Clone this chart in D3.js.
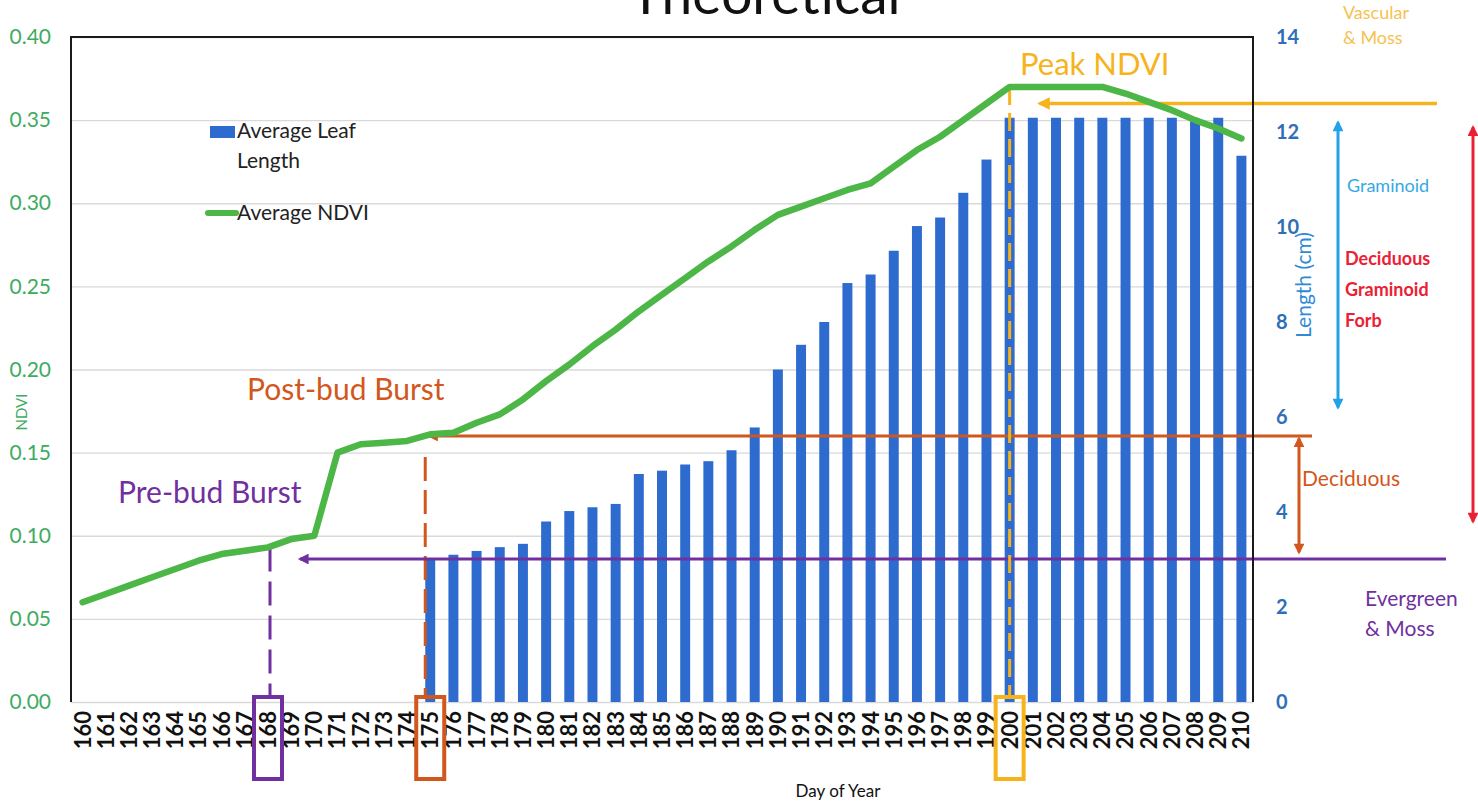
<!DOCTYPE html>
<html><head><meta charset="utf-8">
<script src="https://cdn.jsdelivr.net/npm/d3@7"></script>
<style>
body{margin:0;background:#fff;}
svg{display:block;font-family:Lato,"Open Sans",sans-serif;}
</style>
</head><body><svg id="c" width="1478" height="802"></svg>
<script>
// ---------------- data ----------------
const days = ["160","161","162","163","164","165","166","167","168","169","170",
  "171","172","173","174","175","176","177","178","179","180","181","182","183","184",
  "185","186","187","188","189","190","191","192","193","194","195","196","197","198",
  "199","200","201","202","203","204","205","206","207","208","209","210"];
const leafLength = [null,null,null,null,null,null,null,null,null,null,null,
  null,null,null,null,3.0,3.1,3.18,3.26,3.33,3.8,4.02,4.1,4.17,4.8,
  4.87,5.0,5.07,5.3,5.78,7.0,7.52,8.0,8.82,9.0,9.5,10.02,10.2,10.72,
  11.42,12.3,12.3,12.3,12.3,12.3,12.3,12.3,12.3,12.25,12.3,11.5];
const ndvi = [0.060,0.065,0.070,0.075,0.080,0.085,0.089,0.091,0.093,0.098,0.100,
  0.150,0.155,0.156,0.157,0.161,0.162,0.168,0.173,0.182,0.193,0.203,0.214,0.224,0.235,
  0.245,0.255,0.265,0.274,0.284,0.293,0.298,0.303,0.308,0.312,0.322,0.332,0.340,0.350,
  0.360,0.370,0.370,0.370,0.370,0.370,0.366,0.361,0.356,0.350,0.345,0.339];
const ndviTicks = [0,0.05,0.10,0.15,0.20,0.25,0.30,0.35,0.40];
const lengthTicks = [0,2,4,6,8,10,12,14];
const legendItems = ["Average Leaf Length","Average NDVI"];
// annotation anchors (data space)
const peakDay = "200", postDay = "175", preDay = "168";
const peakLevel = 0.360, postLevel = 0.160, preLevel = 0.086;

// ---------------- colours ----------------
const C = {
  bar:"#2e6bcf", line:"#4cb647", leftAx:"#3eab62", rightAx:"#2e6fb8",
  gold:"#f7b31b", brown:"#d2571d", purple:"#7030a0", sky:"#22a2e8", red:"#ec2034",
  grid:"#d9d9d9"
};

const svg = d3.select("#c");
const P = {left:71, right:1253, top:37, bottom:702};

const x = d3.scaleBand().domain(days).range([P.left,P.right]).paddingInner(0.57).paddingOuter(0.285);
const bw = x.bandwidth();
const cx = d => x(d) + bw/2;
const yL = d3.scaleLinear().domain([0,0.40]).range([P.bottom,P.top]);
const yR = d3.scaleLinear().domain([0,14]).range([P.bottom,P.top]);

// markers
const defs = svg.append("defs");
function marker(id,color){
  defs.append("marker").attr("id",id).attr("viewBox","0 0 10 10")
    .attr("refX",8).attr("refY",5).attr("markerWidth",4).attr("markerHeight",3.6)
    .attr("orient","auto-start-reverse")
    .append("path").attr("d","M0,0 L10,5 L0,10 z").attr("fill",color);
}
marker("mGold",C.gold); marker("mBrown",C.brown); marker("mPurple",C.purple);
marker("mSky",C.sky); marker("mRed",C.red);

// title (cut by the top edge, as in the reference)
svg.append("text").attr("x",765).attr("y",14).attr("text-anchor","middle")
  .attr("font-size",55).attr("fill","#111").text("Theoretical");

// gridlines
svg.append("g").attr("transform",`translate(${P.left},0)`)
  .call(d3.axisLeft(yL).tickValues(ndviTicks).tickSize(-(P.right-P.left)).tickFormat(""))
  .call(g=>g.select(".domain").remove())
  .call(g=>g.selectAll("line").attr("stroke",C.grid).attr("stroke-width",1.3));

// left axis labels
svg.append("g").attr("transform",`translate(51,0)`)
  .call(d3.axisLeft(yL).tickValues(ndviTicks).tickSize(0).tickPadding(0).tickFormat(d3.format(".2f")))
  .call(g=>g.select(".domain").remove())
  .call(g=>g.selectAll("text").attr("fill",C.leftAx).attr("font-size",21).attr("font-family","Lato,sans-serif"));
svg.append("text").attr("transform","translate(27,412) rotate(-90)").attr("text-anchor","middle")
  .attr("font-size",15).attr("fill",C.leftAx).text("NDVI");

// right axis labels
svg.append("g").attr("transform",`translate(1276,0)`)
  .call(d3.axisRight(yR).tickValues(lengthTicks).tickSize(0).tickPadding(0))
  .call(g=>g.select(".domain").remove())
  .call(g=>g.selectAll("text").attr("fill",C.rightAx).attr("font-size",20).attr("font-weight","bold").attr("font-family","Lato,sans-serif"));
svg.append("text").attr("transform","translate(1311,285) rotate(-90)").attr("text-anchor","middle")
  .attr("font-size",21).attr("fill","#2f8ad6").text("Length (cm)");

// x axis labels
svg.append("g").attr("transform",`translate(0,${P.bottom+9})`)
  .call(d3.axisBottom(x).tickSize(0).tickPadding(0))
  .call(g=>g.select(".domain").remove())
  .call(g=>g.selectAll("text").attr("font-size",22).attr("font-weight","bold").attr("fill","#111")
    .attr("font-family","Lato,sans-serif")
    .attr("text-anchor","end").attr("dy","0.36em").attr("transform","rotate(-90)").attr("y",0).attr("x",0));
svg.append("text").attr("x",838).attr("y",797).attr("text-anchor","middle")
  .attr("font-size",17).attr("fill","#111").text("Day of Year");

// bars
svg.append("g").selectAll("rect").data(days.map((d,i)=>({d,v:leafLength[i]})).filter(e=>e.v!=null))
  .join("rect").attr("x",e=>x(e.d)).attr("width",bw)
  .attr("y",e=>yR(e.v)).attr("height",e=>yR(0)-yR(e.v)).attr("fill",C.bar);

// annotation lines
const A = svg.append("g").attr("fill","none");
A.append("line").attr("x1",1437).attr("x2",cx(peakDay)+30).attr("y1",yL(peakLevel)).attr("y2",yL(peakLevel))
  .attr("stroke",C.gold).attr("stroke-width",3.5).attr("marker-end","url(#mGold)");
A.append("line").attr("x1",1312).attr("x2",cx(postDay)-1).attr("y1",yL(postLevel)).attr("y2",yL(postLevel))
  .attr("stroke",C.brown).attr("stroke-width",3).attr("marker-end","url(#mBrown)");
A.append("line").attr("x1",cx(postDay)-5).attr("x2",cx(postDay)-5).attr("y1",yL(postLevel)+21).attr("y2",P.bottom-5)
  .attr("stroke",C.brown).attr("stroke-width",3).attr("stroke-dasharray","24,9");
A.append("line").attr("x1",1446).attr("x2",cx(preDay)+32).attr("y1",yL(preLevel)).attr("y2",yL(preLevel))
  .attr("stroke",C.purple).attr("stroke-width",3).attr("marker-end","url(#mPurple)");
A.append("line").attr("x1",cx(preDay)+2).attr("x2",cx(preDay)+2).attr("y1",yL(ndvi[days.indexOf(preDay)])).attr("y2",P.bottom-6)
  .attr("stroke",C.purple).attr("stroke-width",3).attr("stroke-dasharray","24,10");
A.append("line").attr("x1",cx(peakDay)).attr("x2",cx(peakDay)).attr("y1",yL(ndvi[days.indexOf(peakDay)])).attr("y2",P.bottom-4)
  .attr("stroke",C.gold).attr("stroke-width",3).attr("stroke-dasharray","18,8");

// NDVI line
svg.append("path").datum(days.map((d,i)=>({d,v:ndvi[i]})))
  .attr("fill","none").attr("stroke",C.line).attr("stroke-width",6.5)
  .attr("stroke-linejoin","round").attr("stroke-linecap","round")
  .attr("d",d3.line().x(e=>cx(e.d)).y(e=>yL(e.v)));

// frame
svg.append("path").attr("d",`M${P.left},${P.bottom} V${P.top} H${P.right} V${P.bottom}`)
  .attr("fill","none").attr("stroke","#1a1a1a").attr("stroke-width",2);

// boxes around highlighted day labels
[[preDay,C.purple],[postDay,C.brown],[peakDay,C.gold]].forEach(([d,col])=>{
  svg.append("rect").attr("x",cx(d)-14).attr("y",P.bottom-5).attr("width",28).attr("height",82)
    .attr("fill","none").attr("stroke",col).attr("stroke-width",4);
});

// legend
const L = svg.append("g");
L.append("rect").attr("x",210).attr("y",126).attr("width",25).attr("height",12).attr("fill",C.bar);
L.append("text").attr("x",237).attr("y",138).attr("font-size",21).attr("fill","#222").text("Average Leaf");
L.append("text").attr("x",237).attr("y",168).attr("font-size",21).attr("fill","#222").text("Length");
L.append("line").attr("x1",208).attr("x2",236).attr("y1",213).attr("y2",213).attr("stroke",C.line).attr("stroke-width",6).attr("stroke-linecap","round");
L.append("text").attr("x",237).attr("y",220).attr("font-size",21).attr("fill","#222").text(legendItems[1]);

// phase labels
svg.append("text").attr("x",1020).attr("y",75).attr("font-size",31).attr("fill",C.gold).text("Peak NDVI");
svg.append("text").attr("x",247).attr("y",400).attr("font-size",30).attr("fill",C.brown).text("Post-bud Burst");
svg.append("text").attr("x",118).attr("y",503).attr("font-size",30).attr("fill",C.purple).text("Pre-bud Burst");

// right-side annotations
const R = svg.append("g");
R.append("text").attr("x",1343).attr("y",19).attr("font-size",18).attr("fill","#f6c24f").text("Vascular");
R.append("text").attr("x",1343).attr("y",44).attr("font-size",18).attr("fill","#f6c24f").text("& Moss");
R.append("line").attr("x1",1338).attr("x2",1338).attr("y1",yR(12.2)).attr("y2",yR(6.2))
  .attr("stroke",C.sky).attr("stroke-width",3).attr("marker-start","url(#mSky)").attr("marker-end","url(#mSky)");
R.append("text").attr("x",1347).attr("y",192).attr("font-size",18).attr("fill","#35a8e6").text("Graminoid");
R.append("line").attr("x1",1473).attr("x2",1473).attr("y1",yR(12.1)).attr("y2",yR(3.8))
  .attr("stroke",C.red).attr("stroke-width",3).attr("marker-start","url(#mRed)").attr("marker-end","url(#mRed)");
["Deciduous","Graminoid","Forb"].forEach((t,i)=>{
  R.append("text").attr("x",1345).attr("y",265+i*31).attr("font-size",18).attr("font-weight","bold").attr("fill",C.red).text(t);
});
R.append("line").attr("x1",1299).attr("x2",1299).attr("y1",yR(5.55)).attr("y2",yR(3.15))
  .attr("stroke",C.brown).attr("stroke-width",3).attr("marker-start","url(#mBrown)").attr("marker-end","url(#mBrown)");
R.append("text").attr("x",1302).attr("y",486).attr("font-size",21).attr("fill",C.brown).text("Deciduous");
R.append("text").attr("x",1365).attr("y",606).attr("font-size",21).attr("fill",C.purple).text("Evergreen");
R.append("text").attr("x",1365).attr("y",636).attr("font-size",21).attr("fill",C.purple).text("& Moss");
</script>
</body></html>
